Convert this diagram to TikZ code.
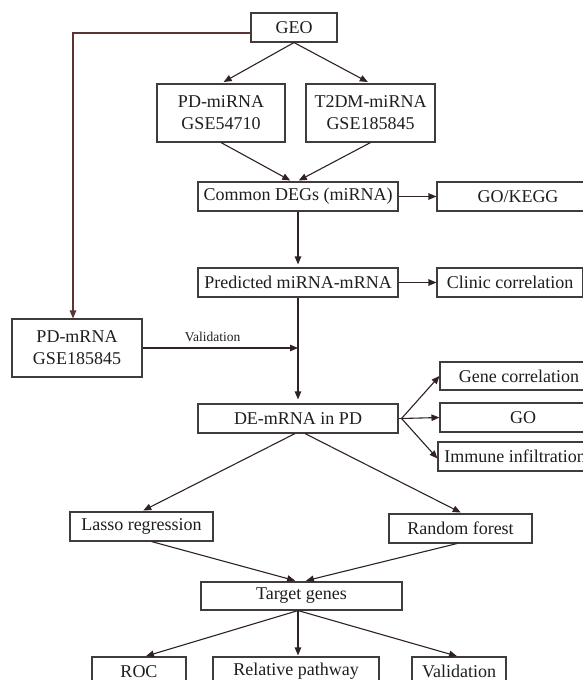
\documentclass[tikz,border=0pt]{standalone}
\usepackage{fontspec}
\setmainfont{Liberation Serif}
\usetikzlibrary{arrows.meta,calc}
\definecolor{boxc}{RGB}{64,60,60}
\definecolor{arrc}{RGB}{48,34,34}
\definecolor{geoline}{RGB}{92,52,52}
\definecolor{txtc}{RGB}{30,30,30}
\tikzset{
  bx/.style={draw=boxc, line width=1.1pt, inner sep=0pt, minimum height=29pt,
             text=txtc, font=\fontsize{18}{22}\selectfont, align=center},
  arr/.style={draw=arrc, line width=1.1pt, -{Triangle[length=8pt,width=6.5pt]}},
  lab/.style={text=txtc, font=\fontsize{13.5}{15}\selectfont, inner sep=0pt}
}
\begin{document}
\begin{tikzpicture}[x=1pt,y=-1pt]
\useasboundingbox[fill=white] (0,0) rectangle (582,680);

% nodes
\node[bx, minimum width=86pt]                      (geo)   at (294,27.5)  {GEO};
\node[bx, minimum width=128pt, minimum height=58pt] (pdmi)  at (221,113)   {PD-miRNA\\GSE54710};
\node[bx, minimum width=129pt, minimum height=58pt] (t2dm)  at (370.5,113) {T2DM-miRNA\\GSE185845};
\node[bx, minimum width=200pt]                     (comm)  at (298,196.5) {Common DEGs (miRNA)};
\node[bx, minimum width=162pt]                     (kegg)  at (518,196.5) {GO/KEGG};
\node[bx, minimum width=200pt]                     (pred)  at (298,282.5) {Predicted miRNA-mRNA};
\node[bx, minimum width=146pt]                     (clin)  at (510,282.5) {Clinic correlation};
\node[bx, minimum width=130pt, minimum height=58pt] (pdm)   at (77,348)    {PD-mRNA\\GSE185845};
\node[bx, minimum width=158pt, minimum height=28pt] (gene)  at (519,376)   {Gene correlation};
\node[bx, minimum width=200pt]                     (demr)  at (298,418.5) {DE-mRNA in PD};
\node[bx, minimum width=166pt]                     (go)    at (523,417.5) {GO};
\node[bx, minimum width=154pt]                     (imm)   at (515,456.5) {Immune infiltration};
\node[bx, minimum width=143pt]                     (lasso) at (141.5,526.5) {Lasso regression};
\node[bx, minimum width=143pt]                     (rf)    at (460.5,528.5) {Random forest};
\node[bx, minimum width=201pt, minimum height=28pt] (targ)  at (301.5,596) {Target genes};
\node[bx, minimum width=94pt]                      (roc)   at (139,671.5) {ROC};
\node[bx, minimum width=166pt]                     (relp)  at (296,671.5) {Relative pathway};
\node[bx, minimum width=94pt]                      (valid) at (459,671.5) {Validation};

% connectors
\draw[arr, draw=geoline] ([yshift=-5.5pt]geo.west) -| ([xshift=-4pt]pdm.north);
\draw[arr, shorten >=3pt] (geo.south) -- (pdmi.north);
\draw[arr, shorten >=3pt] (geo.south) -- (t2dm.north);
\draw[arr, shorten >=2pt] (pdmi.south) -- ([xshift=-6pt]comm.north);
\draw[arr, shorten >=2pt] (t2dm.south) -- ([xshift=-1pt]comm.north);
\draw[arr] (comm.east) -- (kegg.west);
\draw[arr, shorten >=3pt] (comm.south) -- (pred.north);
\draw[arr] (pred.east) -- (clin.west);
\draw[arr, shorten >=4pt] (pred.south) -- (demr.north);
\coordinate (vjoin) at (pdm.east -| pred.south);
\draw[arr] (pdm.east) -- node[lab, pos=0.45, above=6pt] (vlab) {Validation} (vjoin);
\coordinate (fan) at ([xshift=3pt]demr.east);
\draw[draw=arrc, line width=1.1pt] (demr.east) -- (fan);
\draw[arr] (fan) -- (gene.west);
\draw[arr] (fan) -- (go.west);
\draw[arr] (fan) -- ([yshift=-2pt]imm.west);
\draw[arr, shorten >=2pt] ([xshift=-3pt]demr.south) -- (lasso.north);
\draw[arr, shorten >=2pt] ([xshift=7pt]demr.south) -- ([xshift=2pt]rf.north);
\draw[arr, shorten >=3pt] ([xshift=10pt]lasso.south) -- ([xshift=-3.5pt]targ.north);
\draw[arr, shorten >=3pt] ([xshift=-3.5pt]rf.south) -- ([xshift=1.5pt]targ.north);
\draw[arr, shorten >=1pt] ([xshift=-3.5pt]targ.south) -- ([xshift=6pt]roc.north);
\draw[arr, shorten >=1pt] ([xshift=-3.5pt]targ.south) -- ([xshift=2pt]relp.north);
\draw[arr, shorten >=1pt] ([xshift=-3.5pt]targ.south) -- ([xshift=-1pt]valid.north);
\end{tikzpicture}
\end{document}
